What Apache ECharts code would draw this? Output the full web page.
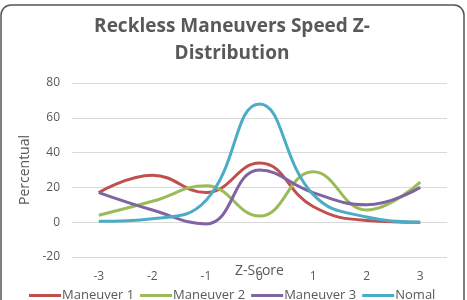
<!DOCTYPE html>
<html>
<head>
<meta charset="utf-8">
<script src="https://cdn.jsdelivr.net/npm/echarts@6/dist/echarts.min.js"></script>
<style>
  html, body { margin: 0; padding: 0; background: #fff; }
  #chart { width: 467px; height: 300px; }
</style>
</head>
<body>
<div id="chart"></div>
<script>
const zScores = ['-3', '-2', '-1', '0', '1', '2', '3']

// percentual per z-score
const maneuver1 = [17, 27, 17, 34, 9, 1, 0]
const maneuver2 = [4, 12, 21, 3.5, 29, 7, 23]
const maneuver3 = [17, 7, -1, 30, 17, 10, 20]
const nomal = [0.5, 2, 12.5, 68, 16, 3, 0]

const seriesNames = ['Maneuver 1', 'Maneuver 2', 'Maneuver 3', 'Nomal']
const seriesData = [maneuver1, maneuver2, maneuver3, nomal]
const colors = ['#C0504D', '#9BBB59', '#8064A2', '#4BACC6']

const font = '"Open Sans", sans-serif'
const grey = '#595959'

const chart = echarts.init(document.getElementById('chart'))

chart.setOption({
    animation: false,
    color: colors,
    graphic: [{
        type: 'rect',
        shape: { x: 1, y: 5, width: 463, height: 320, r: 10 },
        style: { fill: 'none', stroke: '#555', lineWidth: 1.5 },
        silent: true
    }],
    title: {
        text: 'Reckless Maneuvers Speed Z-\nDistribution',
        left: 227,
        textAlign: 'center',
        top: 8,
        textStyle: {
            fontFamily: font,
            fontSize: 19,
            fontWeight: 'bold',
            color: grey,
            lineHeight: 27
        }
    },
    grid: { left: 72, right: 20, top: 83, bottom: 43, outerBoundsMode: 'none', containLabel: false },
    legend: {
        data: seriesNames,
        top: 284,
        left: 24,
        itemGap: 6,
        itemWidth: 32,
        itemHeight: 3,
        icon: 'rect',
        textStyle: { fontFamily: font, fontSize: 13, color: grey, padding: [0, 0, 0, -4] }
    },
    xAxis: {
        type: 'category',
        data: zScores,
        boundaryGap: true,
        name: 'Z-Score',
        nameLocation: 'middle',
        nameGap: 7,
        nameMoveOverlap: false,
        nameTextStyle: { fontFamily: font, fontSize: 14, color: grey },
        axisLine: { onZero: true, lineStyle: { color: '#d9d9d9' } },
        axisTick: { show: false },
        axisLabel: { fontFamily: font, fontSize: 12, color: grey, margin: 14 }
    },
    yAxis: {
        type: 'value',
        min: -20,
        max: 80,
        interval: 20,
        name: 'Percentual',
        nameLocation: 'middle',
        nameGap: 40,
        nameTextStyle: { fontFamily: font, fontSize: 14, color: grey },
        axisLine: { show: false },
        axisTick: { show: false },
        axisLabel: { fontFamily: font, fontSize: 12, color: grey, margin: 12 },
        splitLine: { lineStyle: { color: '#d9d9d9' } }
    },
    series: seriesNames.map((name, i) => ({
        name: name,
        type: 'line',
        data: seriesData[i],
        smooth: 0.45,
        showSymbol: false,
        lineStyle: { width: 3 }
    }))
})
</script>
</body>
</html>
